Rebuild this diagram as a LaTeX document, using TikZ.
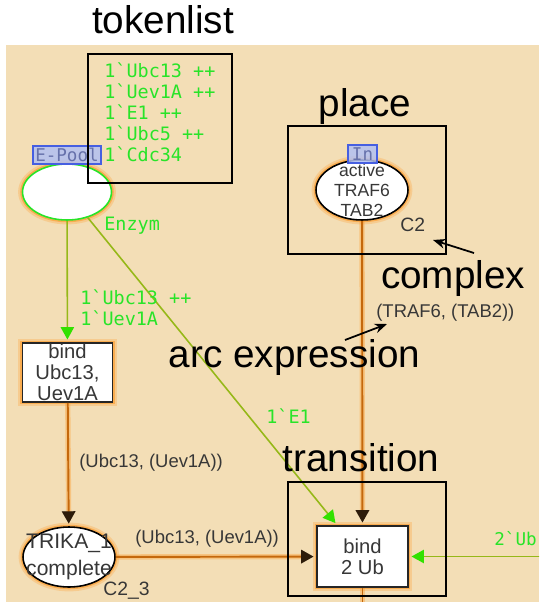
\documentclass[tikz,border=0pt]{standalone}
\usepackage{fontspec}
\setmainfont{Liberation Sans}
\newfontfamily\cpnmono{DejaVu Sans Mono}
\usepackage{xcolor}
\usepackage{tikz}
\usetikzlibrary{shapes.geometric, arrows.meta}
\definecolor{canvasbeige}{RGB}{243, 222, 182}
\definecolor{haloorange}{RGB}{255, 150, 30}
\definecolor{arcorange}{RGB}{196, 104, 12}
\definecolor{arcolive}{RGB}{150, 184, 24}
\definecolor{tokengreen}{RGB}{40, 228, 40}
\definecolor{headdark}{RGB}{45, 28, 10}
\definecolor{headgreen}{RGB}{50, 225, 0}
\definecolor{cpngray}{RGB}{55, 55, 55}
\definecolor{tagblue}{RGB}{70, 95, 225}
\definecolor{tagfill}{RGB}{178, 192, 242}
\newcommand\mset{\textasciigrave}

\begin{document}
\begin{tikzpicture}[
    x=0.02cm, y=-0.02cm,
    halo/.style={preaction={draw=haloorange, line width=5pt, draw opacity=0.25},
                 preaction={draw=haloorange, line width=2.6pt, draw opacity=0.55}},
    place/.style={ellipse, draw=#1, fill=white, line width=0.9pt, halo,
                  minimum width=1.84cm, minimum height=1.2cm, inner sep=0pt},
    place/.default=black,
    placetext/.style={align=center, inner sep=0pt, text=cpngray},
    trans/.style={rectangle, draw=black!85, fill=white, line width=1pt, halo,
                  minimum width=1.8cm, minimum height=1.2cm, inner sep=0pt,
                  align=center, text=cpngray, font=\fontsize{11.5}{11.8}\selectfont},
    flow/.style={draw=arcorange, line width=1.1pt,
                 preaction={draw=haloorange, line width=3pt, draw opacity=0.35}},
    flowin/.style={flow, -{Triangle[length=7pt, width=7.5pt, color=headdark]}, shorten >=1.5pt},
    enzymflow/.style={draw=arcolive, line width=0.9pt,
                 -{Triangle[length=7pt, width=7.5pt, color=headgreen]}, shorten >=1.5pt},
    tag/.style={draw=tagblue, fill=tagfill, fill opacity=0.85, text opacity=1,
                line width=0.8pt, minimum height=0.36cm, inner sep=1pt,
                text=tagblue!45!gray, font=\cpnmono\fontsize{10}{10}\selectfont},
    inscr/.style={inner sep=0pt, align=left, text=tokengreen,
                  font=\cpnmono\fontsize{10.5}{11.9}\selectfont},
    expr/.style={inner sep=0pt, text=cpngray, font=\fontsize{10.5}{12}\selectfont},
    note/.style={inner sep=0pt, font=\fontsize{22}{26}\selectfont},
    frame/.style={draw=black, line width=1.1pt},
    pointer/.style={draw=black, line width=1pt, -{Stealth[length=7pt, width=5.5pt]}}
]
    \useasboundingbox (0,0) rectangle (539,602);
    \clip (0,0) rectangle (539,602);
    \fill[canvasbeige] (6,45) rectangle (539,602);

    % places and transitions
    \node[place=tokengreen, minimum width=1.78cm, minimum height=1.12cm] (epool) at (67,192) {};
    \node[place, label={[placetext, font=\fontsize{10}{11.3}\selectfont]center:{active\\TRAF6\\TAB2}}]
        (active) at (362,190) {};
    \node[trans, minimum height=1.18cm] (bindubc) at (67.5,372.5) {bind\\Ubc13,\\Uev1A};
    \node[place, label={[placetext, font=\fontsize{12}{15.3}\selectfont]center:{TRIKA\_1\\complete}}]
        (trika) at (69,557) {};
    \node[trans, minimum width=1.82cm, minimum height=1.22cm] (bindub) at (362.5,556.5) {bind\\2 Ub};
    \coordinate (ubsource) at (570,556.5);
    \coordinate (ubsink) at (362.5,640);

    % arcs
    \draw[enzymflow] (epool) -- (bindubc);
    \draw[enzymflow] (epool) -- (bindub);
    \draw[flowin] (active) -- (bindub);
    \draw[flowin] (bindubc) -- (trika);
    \draw[flowin] (trika) -- (bindub);
    \draw[enzymflow] (ubsource) -- (bindub);
    \draw[flow] (bindub) -- (ubsink);

    \node[tag, minimum width=1.36cm] (epooltag) at (67,155) {E-Pool};
    \node[tag, minimum width=0.58cm] (intag) at (362.5,154) {In};

    % inscriptions
    \node[inscr, anchor=west] (tokens) at (104,112)
        {1\mset Ubc13 ++\\1\mset Uev1A ++\\1\mset E1 ++\\1\mset Ubc5 ++\\1\mset Cdc34};
    \node[inscr, anchor=west] (enzym) at (104,226) {Enzym};
    \node[inscr, anchor=west] (bindin) at (80,308) {1\mset Ubc13 ++\\1\mset Uev1A};
    \node[inscr, anchor=west] (e1in) at (266,416) {1\mset E1};
    \node[inscr, anchor=west, font=\cpnmono\fontsize{10}{11}\selectfont] (ubin) at (494,539) {2\mset Ub};
    \node[expr, anchor=west] (traf) at (376,313) {(TRAF6, (TAB2))};
    \node[expr, anchor=west] (ubcout) at (79,463) {(Ubc13, (Uev1A))};
    \node[expr, anchor=west] (ubcin) at (135,539) {(Ubc13, (Uev1A))};
    \node[expr, anchor=west, font=\fontsize{11}{12}\selectfont] (c2) at (400,225) {C2};
    \node[expr, anchor=west, font=\fontsize{11}{12}\selectfont] (c23) at (103,591) {C2\_3};

    % annotations
    \node[note, anchor=base] (tokenlist) at (163,33) {tokenlist};
    \node[note, anchor=base] (placenote) at (365,116) {place};
    \node[note, anchor=base] (complex) at (453,288) {complex};
    \node[note, anchor=base] (arcexpr) at (294.5,367) {arc expression};
    \node[note, anchor=base] (transnote) at (361,471) {transition};

    \draw[frame] (88,54) rectangle (232,183);
    \draw[frame] (288,126) rectangle (446,254);
    \draw[frame] (288,482) rectangle (446,596);

    \coordinate (cplxtail) at (474,253);
    \coordinate (cplxtip) at (433,240);
    \coordinate (exprtail) at (345,340);
    \coordinate (exprtip) at (387,324);
    \draw[pointer] (cplxtail) -- (cplxtip);
    \draw[pointer] (exprtail) -- (exprtip);
\end{tikzpicture}
\end{document}
